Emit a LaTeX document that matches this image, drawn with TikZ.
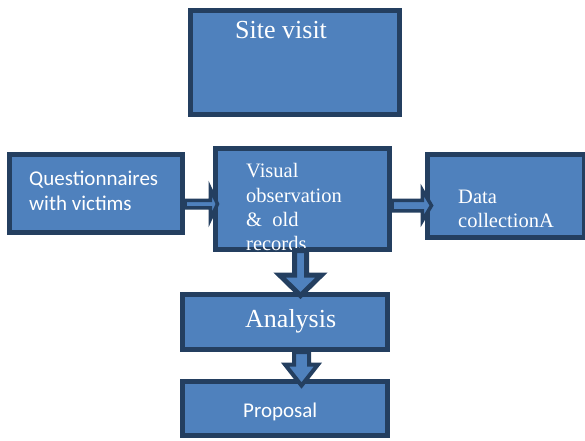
\documentclass[tikz,border=0pt]{standalone}
\usepackage{fontspec}
\setmainfont{Liberation Serif}
\newfontfamily\calib{Carlito}
\usetikzlibrary{calc}
\definecolor{boxblue}{HTML}{4F81BD}
\definecolor{boxdark}{HTML}{243F60}
\tikzset{
  blockbox/.style={rectangle, draw=boxdark, fill=boxblue, line width=5pt, inner sep=0pt},
  txt/.style={anchor=base west, inner sep=0pt, text=white},
  blockarrow/.style={draw=boxdark, fill=boxblue, line width=3.5pt, line join=miter},
}
\begin{document}
\begin{tikzpicture}[x=1pt,y=-1pt]
\useasboundingbox (0,0) rectangle (585,440);
% boxes
\node[blockbox, minimum width=209pt, minimum height=104pt] (site) at (295,62.5) {};
\node[blockbox, minimum width=173pt, minimum height=78pt] (quest) at (96,193.5) {};
\node[blockbox, minimum width=174pt, minimum height=101pt] (visual) at (302.5,199) {};
\node[blockbox, minimum width=157pt, minimum height=83pt] (data) at (506,196) {};
\node[blockbox, minimum width=205pt, minimum height=55pt] (anal) at (285,322) {};
\node[blockbox, minimum width=205pt, minimum height=54pt] (prop) at (285,408.5) {};
% texts
\node[txt, font=\fontsize{26}{30}\selectfont] (tsite) at (235,38) {Site visit};
\node[txt, font=\calib\fontsize{21}{25}\selectfont] (tq1) at (29,185) {Questionnaires};
\node[txt, font=\calib\fontsize{21}{25}\selectfont] (tq2) at (29,210) {with victims};
\node[txt, font=\fontsize{20.5}{24}\selectfont] (tv1) at (246,177) {Visual};
\node[txt, font=\fontsize{20.5}{24}\selectfont] (tv2) at (246,202) {observation};
\node[txt, font=\fontsize{20.5}{24}\selectfont] (tv3) at (246,226) {\&\ \ old};
\node[txt, font=\fontsize{20.5}{24}\selectfont] (tv4) at (246,250) {records};
\node[txt, font=\fontsize{20.5}{24}\selectfont] (td1) at (458,203) {Data};
\node[txt, font=\fontsize{20.5}{24}\selectfont] (td2) at (458,227) {collectionA};
\node[txt, font=\fontsize{26}{30}\selectfont] (tan) at (245,327) {Analysis};
\node[txt, font=\calib\fontsize{21}{25}\selectfont] (tpr) at (243,417) {Proposal};
% block arrow: questionnaires -> visual
\coordinate (a1) at ($(quest.east)+(0,10.5)$);
\draw[blockarrow] ($(a1)+(0,-3.75)$) -- ($(a1)+(25.25,-3.75)$) -- ($(a1)+(25.25,-15.5)$)
  -- ($(a1)+(32.5,0)$) -- ($(a1)+(25.25,15.5)$) -- ($(a1)+(25.25,3.75)$) -- ($(a1)+(0,3.75)$) -- cycle;
% block arrow: visual -> data
\coordinate (a2) at ($(visual.east)+(0,6.5)$);
\draw[blockarrow] ($(a2)+(0,-5.25)$) -- ($(a2)+(30.25,-5.25)$) -- ($(a2)+(30.25,-15.5)$)
  -- ($(a2)+(39.5,0)$) -- ($(a2)+(30.25,15.5)$) -- ($(a2)+(30.25,5.25)$) -- ($(a2)+(0,5.25)$) -- cycle;
% block arrow: visual -> analysis
\coordinate (a3) at ($(visual.south)+(-2,-1.5)$);
\draw[blockarrow, line width=5pt] ($(a3)+(-6,0)$) -- ($(a3)+(-6,24.5)$) -- ($(a3)+(-21,24.5)$)
  -- ($(a3)+(0,45)$) -- ($(a3)+(21,24.5)$) -- ($(a3)+(6,24.5)$) -- ($(a3)+(6,0)$) -- cycle;
% block arrow: analysis -> proposal
\coordinate (a4) at ($(anal.south)+(16.5,0)$);
\draw[blockarrow, line width=4pt] ($(a4)+(-7.5,0)$) -- ($(a4)+(-7.5,12.5)$) -- ($(a4)+(-16.5,12.5)$)
  -- ($(a4)+(0,33.5)$) -- ($(a4)+(16.5,12.5)$) -- ($(a4)+(7.5,12.5)$) -- ($(a4)+(7.5,0)$) -- cycle;
\end{tikzpicture}
\end{document}
